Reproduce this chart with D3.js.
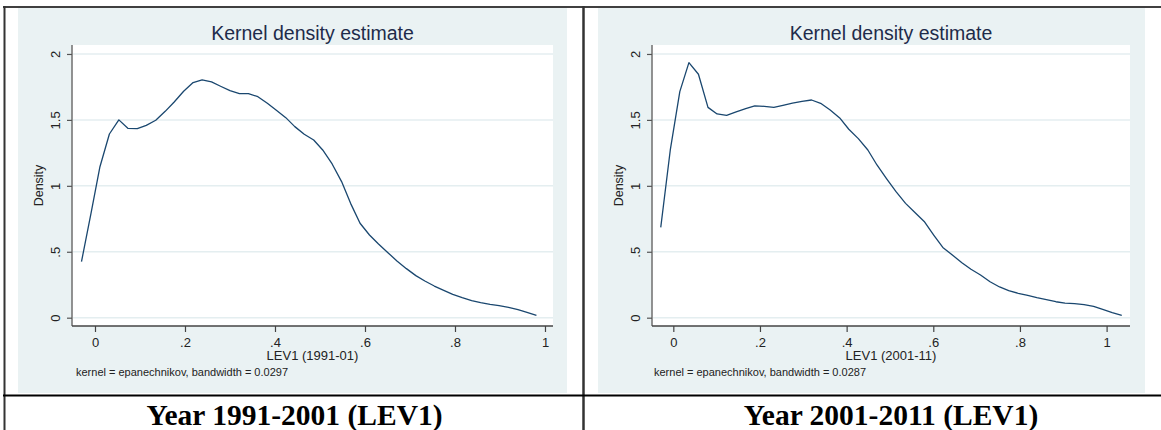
<!DOCTYPE html>
<html><head><meta charset="utf-8">
<script src="https://cdn.jsdelivr.net/npm/d3@7"></script>
<style>html,body{margin:0;padding:0;background:#fff;}svg{display:block;}</style>
</head><body>
<svg id="c" width="1161" height="430"></svg>
<script>
// ---- data ----
const xTicks = [0, 0.2, 0.4, 0.6, 0.8, 1];
const yTicks = [0, 0.5, 1, 1.5, 2];

const leftX = [-0.030,-0.009,0.011,0.032,0.053,0.073,0.094,0.114,0.135,0.156,0.176,0.197,0.218,0.238,0.259,0.279,0.300,0.321,0.341,0.362,0.383,0.403,0.424,0.444,0.465,0.486,0.506,0.527,0.548,0.568,0.589,0.610,0.630,0.651,0.671,0.692,0.713,0.733,0.754,0.775,0.795,0.816,0.837,0.857,0.878,0.898,0.919,0.940,0.960,0.981];
const leftY = [0.425,0.79,1.145,1.393,1.50,1.436,1.434,1.459,1.497,1.565,1.636,1.717,1.783,1.803,1.788,1.755,1.722,1.699,1.699,1.676,1.626,1.573,1.517,1.449,1.391,1.348,1.272,1.166,1.032,0.867,0.716,0.627,0.559,0.493,0.430,0.372,0.319,0.278,0.240,0.207,0.177,0.152,0.129,0.114,0.101,0.091,0.078,0.061,0.040,0.018];

const rightX = [-0.029,-0.007,0.015,0.036,0.058,0.080,0.101,0.123,0.145,0.167,0.188,0.210,0.232,0.253,0.275,0.297,0.319,0.340,0.362,0.384,0.405,0.427,0.449,0.470,0.492,0.514,0.536,0.557,0.579,0.601,0.622,0.644,0.666,0.687,0.709,0.731,0.753,0.774,0.796,0.818,0.839,0.861,0.883,0.904,0.926,0.948,0.970,0.991,1.013,1.035];
const rightY = [0.685,1.272,1.714,1.934,1.846,1.595,1.545,1.535,1.560,1.585,1.606,1.603,1.595,1.611,1.628,1.641,1.651,1.626,1.575,1.515,1.429,1.358,1.272,1.158,1.055,0.956,0.867,0.80,0.73,0.627,0.533,0.475,0.417,0.367,0.324,0.273,0.233,0.205,0.185,0.169,0.152,0.137,0.121,0.111,0.106,0.099,0.086,0.063,0.038,0.018];

const titleText = "Kernel density estimate";
const yLabel = "Density";
const xLabels = ["LEV1 (1991-01)", "LEV1 (2001-11)"];
const notes = ["kernel = epanechnikov, bandwidth = 0.0297", "kernel = epanechnikov, bandwidth = 0.0287"];
const captions = ["Year 1991-2001 (LEV1)", "Year 2001-2011 (LEV1)"];

// ---- layout ----
const svg = d3.select("#c");
svg.append("rect").attr("width",1161).attr("height",430).attr("fill","#fff");

const BG = "#eaf2f3", LINE = "#1a476f", GRID = "#e4eef0";
const FONT = "'Liberation Sans', Arial, sans-serif";

const panels = [
  {bg:[18,8,549,385], plot:[72,45,553,326], xDom:[-0.0511,1.0178], xs:leftX, ys:leftY, noteX:76, capX:294.5},
  {bg:[598,8,547,385], plot:[652,45,1130,326], xDom:[-0.0492,1.054], xs:rightX, ys:rightY, noteX:654, capX:891}
];
const yDom = [-0.063, 2.068];

const fmt = d => d === 0 ? "0" : String(d).replace(/^0\./, ".");

panels.forEach((p, i) => {
  const g = svg.append("g");
  g.append("rect").attr("x",p.bg[0]).attr("y",p.bg[1]).attr("width",p.bg[2]).attr("height",p.bg[3]).attr("fill",BG);
  const [x0,y0,x1,y1] = p.plot;
  g.append("rect").attr("x",x0).attr("y",y0).attr("width",x1-x0).attr("height",y1-y0).attr("fill","#fff");
  const x = d3.scaleLinear().domain(p.xDom).range([x0,x1]);
  const y = d3.scaleLinear().domain(yDom).range([y1,y0]);

  // gridlines
  g.selectAll(".grid").data(yTicks).join("line")
    .attr("x1",x0+1).attr("x2",x1).attr("y1",d=>y(d)).attr("y2",d=>y(d))
    .attr("stroke",GRID).attr("stroke-width",1.5);

  // curve
  const pts = p.xs.map((v,k)=>[v,p.ys[k]]);
  g.append("path").datum(pts)
    .attr("d", d3.line().x(d=>x(d[0])).y(d=>y(d[1])))
    .attr("fill","none").attr("stroke",LINE).attr("stroke-width",1.3).attr("stroke-linejoin","round");

  // y axis
  const ya = g.append("g").attr("transform",`translate(${x0},0)`)
    .call(d3.axisLeft(y).tickValues(yTicks).tickSize(5).tickSizeOuter(0).tickFormat(fmt));
  ya.select(".domain").attr("stroke","#777").attr("stroke-width",1.6).attr("d",`M0,${y0}V${y1}`);
  ya.selectAll(".tick line").attr("stroke","#555").attr("stroke-width",1.2);
  ya.selectAll(".tick text").attr("font-family",FONT).attr("font-size",13).attr("fill","#222")
    .attr("text-anchor","middle").attr("dy",0)
    .each(function(){ d3.select(this).attr("transform",`translate(-12,0) rotate(-90)`).attr("y",0).attr("x",0); });

  // x axis
  const xa = g.append("g").attr("transform",`translate(0,${y1})`)
    .call(d3.axisBottom(x).tickValues(xTicks).tickSize(6).tickSizeOuter(0).tickFormat(fmt));
  xa.select(".domain").attr("stroke","#444").attr("stroke-width",1.6).attr("d",`M${x0},0H${x1}`);
  xa.selectAll(".tick line").attr("stroke","#444").attr("stroke-width",1.2);
  xa.selectAll(".tick text").attr("font-family",FONT).attr("font-size",13).attr("fill","#222")
    .attr("y",20.5).attr("dy",0);

  // labels
  const cx = (x0+x1)/2;
  g.append("text").attr("x",cx).attr("y",40).attr("text-anchor","middle")
    .attr("font-family",FONT).attr("font-size",19.5).attr("fill","#1e2b4a").text(titleText);
  g.append("text").attr("transform",`translate(${x0-29},${(y0+y1)/2}) rotate(-90)`)
    .attr("text-anchor","middle").attr("font-family",FONT).attr("font-size",12.5).attr("fill","#222").text(yLabel);
  g.append("text").attr("x",cx).attr("y",360).attr("text-anchor","middle")
    .attr("font-family",FONT).attr("font-size",13).attr("fill","#222").text(xLabels[i]);
  g.append("text").attr("x",p.noteX).attr("y",375.5)
    .attr("font-family",FONT).attr("font-size",11).attr("fill","#222").text(notes[i]);
  g.append("text").attr("x",p.capX).attr("y",425).attr("text-anchor","middle")
    .attr("font-family","'Liberation Serif','Times New Roman',serif").attr("font-weight","bold")
    .attr("font-size",29.5).attr("fill","#000").text(captions[i]);
});

// table borders
const B = svg.append("g");
B.append("line").attr("x1",3).attr("x2",1161).attr("y1",7).attr("y2",7).attr("stroke","#000").attr("stroke-width",1.5);
B.append("line").attr("x1",4.5).attr("x2",4.5).attr("y1",6).attr("y2",430).attr("stroke","#333").attr("stroke-width",2);
B.append("line").attr("x1",583.5).attr("x2",583.5).attr("y1",6).attr("y2",430).attr("stroke","#333").attr("stroke-width",2.5);
B.append("line").attr("x1",3).attr("x2",1161).attr("y1",395.5).attr("y2",395.5).attr("stroke","#000").attr("stroke-width",2);
</script>
</body></html>
